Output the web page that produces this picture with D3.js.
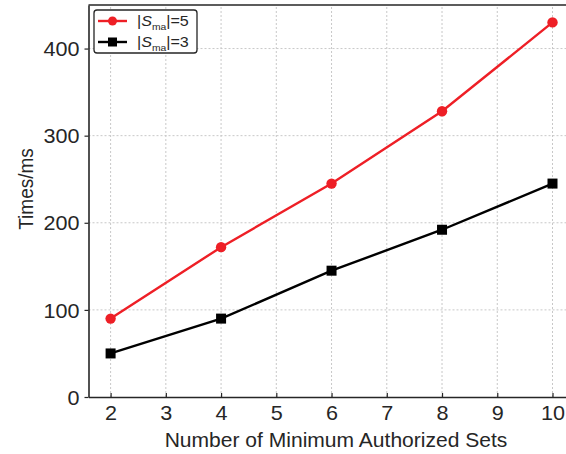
<!DOCTYPE html>
<html>
<head>
<meta charset="utf-8">
<script src="https://cdn.jsdelivr.net/npm/d3@7"></script>
<style>
  body { margin: 0; background: #fff; }
  svg { display: block; font-family: "Liberation Sans", Arial, sans-serif; }
</style>
</head>
<body>
<div id="chart"></div>
<script>
// data
const sets = [2, 4, 6, 8, 10];
const timesS5 = [90, 172, 245, 328, 430];
const timesS3 = [50, 90, 145, 192, 245];
const xTicks = [2, 3, 4, 5, 6, 7, 8, 9, 10];
const yTicks = [0, 100, 200, 300, 400];

const W = 566, H = 454;
const sx = 1.08; // the original figure is slightly stretched sideways
const ink = '#262626';
const svg = d3.select('#chart').append('svg')
  .attr('width', W).attr('height', H);

const x = d3.scaleLinear().domain([1.6, 10.4]).range([88.5, 574.6]);
const y = d3.scaleLinear().domain([0, 450]).range([397, 5]);

// grid
const grid = svg.append('g').attr('stroke', '#c8c8c8').attr('stroke-width', 1)
  .attr('stroke-dasharray', '2,2');
grid.selectAll('.gx').data(xTicks).enter().append('line')
  .attr('x1', d => x(d)).attr('x2', d => x(d)).attr('y1', y(0)).attr('y2', y(450));
grid.selectAll('.gy').data(yTicks.filter(d => d > 0)).enter().append('line')
  .attr('x1', x(1.6)).attr('x2', x(10.4)).attr('y1', d => y(d)).attr('y2', d => y(d));

// axes
const xAxis = svg.append('g').attr('transform', `translate(0,${y(0)})`)
  .call(d3.axisBottom(x).tickValues(xTicks).tickSize(-4).tickPadding(9).tickSizeOuter(0));
const yAxis = svg.append('g').attr('transform', `translate(${x(1.6)},0)`)
  .call(d3.axisLeft(y).tickValues(yTicks).tickSize(4).tickPadding(5).tickSizeOuter(0));
[xAxis, yAxis].forEach(a => {
  a.select('.domain').attr('stroke', ink).attr('stroke-width', 1.6);
  a.selectAll('.tick line').attr('stroke', ink).attr('stroke-width', 1.2);
  a.selectAll('.tick text').attr('fill', ink).style('font-size', '20px')
    .style('font-family', '"Liberation Sans", Arial, sans-serif')
    .attr('transform', `scale(${sx},1)`);
});
yAxis.selectAll('.tick text').attr('dy', '0.36em').attr('x', -9 / sx);
// top frame
svg.append('line').attr('x1', x(1.6)).attr('x2', x(10.4)).attr('y1', y(450)).attr('y2', y(450))
  .attr('stroke', ink).attr('stroke-width', 1.6);

// axis titles
svg.append('text').attr('transform', `translate(336,447) scale(${sx},1)`).attr('text-anchor', 'middle')
  .style('font-size', '19.5px').attr('fill', ink).text('Number of Minimum Authorized Sets');
svg.append('text').attr('transform', `translate(33,189) rotate(-90) scale(1,${sx})`).attr('text-anchor', 'middle')
  .style('font-size', '19px').attr('fill', ink).text('Times/ms');

// series
const series = [
  { name: '5', values: timesS5, color: '#ee1f26', shape: 'circle' },
  { name: '3', values: timesS3, color: '#000000', shape: 'square' }
];
const line = d3.line().x((d, i) => x(sets[i])).y(d => y(d));
series.forEach(s => {
  svg.append('path').datum(s.values).attr('d', line)
    .attr('fill', 'none').attr('stroke', s.color).attr('stroke-width', 2.4);
  const g = svg.append('g');
  if (s.shape === 'circle') {
    g.selectAll('circle').data(s.values).enter().append('circle')
      .attr('cx', (d, i) => x(sets[i])).attr('cy', d => y(d)).attr('r', 5.2).attr('fill', s.color);
  } else {
    g.selectAll('rect').data(s.values).enter().append('rect')
      .attr('x', (d, i) => x(sets[i]) - 5).attr('y', d => y(d) - 5)
      .attr('width', 10).attr('height', 10).attr('fill', s.color);
  }
});

// legend
const lg = svg.append('g');
lg.append('rect').attr('x', 94).attr('y', 10).attr('width', 103).attr('height', 43)
  .attr('rx', 3).attr('fill', '#fff').attr('stroke', ink).attr('stroke-width', 1.3);
series.forEach((s, i) => {
  const cy = 21 + i * 21;
  lg.append('line').attr('x1', 98).attr('x2', 127).attr('y1', cy).attr('y2', cy)
    .attr('stroke', s.color).attr('stroke-width', 2.4);
  if (s.shape === 'circle') {
    lg.append('circle').attr('cx', 112.5).attr('cy', cy).attr('r', 4.5).attr('fill', s.color);
  } else {
    lg.append('rect').attr('x', 108).attr('y', cy - 4.5).attr('width', 9).attr('height', 9).attr('fill', s.color);
  }
  const t = lg.append('text').attr('transform', `translate(137,${cy + 5}) scale(1.15,1)`)
    .style('font-size', '14px').attr('fill', ink);
  t.append('tspan').text('|');
  t.append('tspan').style('font-style', 'italic').text('S');
  t.append('tspan').attr('dy', 4).style('font-size', '9px').text('ma');
  t.append('tspan').attr('dy', -4).text('|=' + s.name);
});
</script>
</body>
</html>
